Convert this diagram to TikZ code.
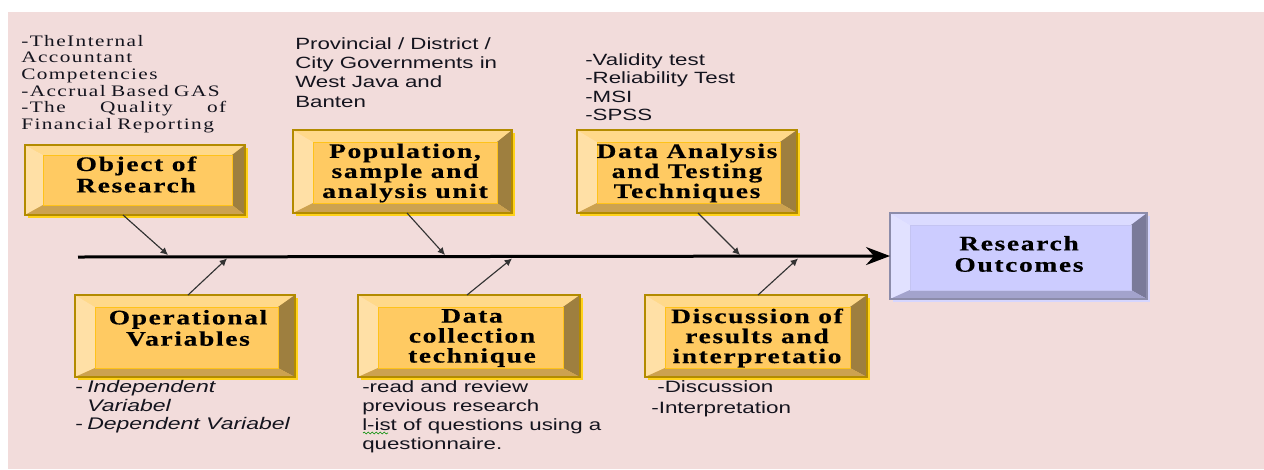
\documentclass[tikz,border=0pt]{standalone}
\usepackage{fontspec}
\setmainfont{Liberation Serif}[FakeStretch=1.33]
\setsansfont{Liberation Sans}[FakeStretch=1.37]
\newfontfamily\tlfont{Liberation Serif}[FakeStretch=1.33,LetterSpace=9]
\newfontfamily\lblfont{Liberation Serif}[FakeStretch=1.33,LetterSpace=8,FakeBold=0.4]
\usetikzlibrary{arrows.meta,calc,shadows,decorations.pathmorphing}
\definecolor{bgpink}{HTML}{F2DCDB}
\definecolor{gface}{HTML}{FFCA62}
\definecolor{gtop}{HTML}{FFD98A}
\definecolor{gleft}{HTML}{FFE0A6}
\definecolor{gright}{HTML}{9E7F3F}
\definecolor{gbottom}{HTML}{CCA250}
\definecolor{gline}{HTML}{B38B00}
\definecolor{gglow}{HTML}{FFD21A}
\definecolor{ginner}{HTML}{FFC21A}
\definecolor{bface}{HTML}{CCCCFF}
\definecolor{btop}{HTML}{DBDBFF}
\definecolor{bleft}{HTML}{E1E1FF}
\definecolor{bright}{HTML}{7A7A99}
\definecolor{bbottom}{HTML}{A3A3CC}
\definecolor{bline}{HTML}{8C8CAA}
\definecolor{bglow}{HTML}{D6D6FF}
\definecolor{binner}{HTML}{C4C4F2}
\definecolor{txt}{HTML}{14141E}
\newcommand\bevelbox[6]{%
  \coordinate (#1-ia) at ($(#1.north west)+(#2,#3)$);
  \coordinate (#1-ib) at ($(#1.north east)+(-#4,#3)$);
  \coordinate (#1-ic) at ($(#1.south east)+(-#4,-#5)$);
  \coordinate (#1-id) at ($(#1.south west)+(#2,-#5)$);
  \fill[#6top] (#1.north west) -- (#1.north east) -- (#1-ib) -- (#1-ia) -- cycle;
  \fill[#6left] (#1.north west) -- (#1-ia) -- (#1-id) -- (#1.south west) -- cycle;
  \fill[#6right] (#1.north east) -- (#1.south east) -- (#1-ic) -- (#1-ib) -- cycle;
  \fill[#6bottom] (#1.south west) -- (#1-id) -- (#1-ic) -- (#1.south east) -- cycle;
  \draw[#6inner, line width=0.6pt] (#1-ia) rectangle (#1-ic);
  \draw[#6line, line width=1pt] (#1.north west) rectangle (#1.south east);
}
\begin{document}
\begin{tikzpicture}[x=0.75pt,y=-0.75pt,
  gbox/.style={draw=gline, line width=1pt, fill=gface, inner sep=0pt, outer sep=0pt,
    drop shadow={shadow xshift=1.9pt, shadow yshift=-1.9pt, fill=gglow, opacity=1}},
  bbox/.style={draw=bline, line width=1pt, fill=bface, inner sep=0pt, outer sep=0pt,
    drop shadow={shadow xshift=1.9pt, shadow yshift=-1.9pt, fill=bglow, opacity=1}},
  lbl/.style={font=\lblfont\bfseries\fontsize{15.5}{15}\selectfont, align=center, inner sep=0pt, text=black},
  lbltwo/.style={font=\lblfont\bfseries\fontsize{15.5}{16}\selectfont, align=center, inner sep=0pt, text=black},
  note/.style={font=\sffamily\fontsize{12.2}{14}\selectfont, align=left, inner sep=0pt, anchor=north west, text=txt},
  conn/.style={draw=black!80, line width=0.85pt, -{Latex[length=5.5pt,width=5.5pt]}},
  spine/.style={draw=black, line width=2.25pt, -{Stealth[length=18pt,width=13.5pt,inset=6pt]}}
]
\useasboundingbox (0,0) rectangle (1264,469);
\fill[white] (0,0) rectangle (1264,469);
\fill[bgpink] (8,12) rectangle (1264,469);

% boxes
\node[gbox, minimum width=165pt, minimum height=52.5pt] (obj) at (135,180) {};
\bevelbox{obj}{18}{10}{13}{10}{g}
\node[gbox, minimum width=164.25pt, minimum height=62.25pt] (pop) at (402.5,171.5) {};
\bevelbox{pop}{20}{12}{15}{10}{g}
\node[gbox, minimum width=165pt, minimum height=62.25pt] (dat) at (687,171.5) {};
\bevelbox{dat}{20}{12}{17}{10}{g}
\node[bbox, minimum width=192.75pt, minimum height=64.5pt] (out) at (1018.5,256) {};
\bevelbox{out}{20}{12}{16}{9}{b}
\node[gbox, minimum width=165pt, minimum height=61.5pt] (ope) at (185,336) {};
\bevelbox{ope}{20}{12}{17}{9}{g}
\node[gbox, minimum width=166.5pt, minimum height=61.5pt] (col) at (469,336) {};
\bevelbox{col}{20}{12}{17}{9}{g}
\node[gbox, minimum width=166.5pt, minimum height=61.5pt] (dis) at (756,336) {};
\bevelbox{dis}{20}{12}{17}{9}{g}

% labels
\node[lbltwo] (objt) at (136,174.5) {Object of\\Research};
\node[lbl] (popt) at (405,173) {Population,\\sample and\\analysis unit};
\node[lbl] (datt) at (687,173) {Data Analysis\\and Testing\\Techniques};
\node[lbltwo] (outt) at (1019,254) {Research\\Outcomes};
\node[lbltwo] (opet) at (188,328) {Operational\\Variables};
\node[lbl] (colt) at (472,338) {Data\\collection\\technique};
\node[lbl] (dist) at (757,338) {Discussion of\\results and\\interpretatio};

% spine
\coordinate (sp0) at (78,257);
\draw[spine] (sp0) -- (out.west);
\coordinate (j1) at (168,255);
\coordinate (j2) at (227,258.5);
\coordinate (j3) at (445,255);
\coordinate (j4) at (512,258.5);
\coordinate (j5) at (740,255);
\coordinate (j6) at (798,258.5);
\draw[conn] ([xshift=-9pt]obj.south) -- (j1);
\draw[conn] ([xshift=3.4pt]pop.south) -- (j3);
\draw[conn] ([xshift=8.25pt]dat.south) -- (j5);
\draw[conn] ([xshift=2.25pt]ope.north) -- (j2);
\draw[conn] ([xshift=-1.5pt]col.north) -- (j4);
\draw[conn] ([xshift=1.5pt]dis.north) -- (j6);

% notes
\node[anchor=north west, inner sep=0pt, text=txt, align=left, text width=153.75pt,
  font=\tlfont\fontsize{12}{12.45}\selectfont] (n1) at (21,35)
  {-TheInternal\\Accountant\\Competencies\\-Accrual Based GAS\\\makebox[153.75pt][l]{-The\hfill Quality\hfill of}\\Financial Reporting};
\node[note, font=\sffamily\fontsize{12.2}{14.4}\selectfont] (n2) at (295,37.5)
  {Provincial / District /\\City Governments in\\West Java and\\Banten};
\node[note, font=\sffamily\fontsize{12.2}{13.9}\selectfont] (n3) at (585,53)
  {-Validity test\\-Reliability Test\\-MSI\\-SPSS};
\node[note, font=\sffamily\fontsize{12.6}{14}\selectfont] (n4) at (75,380)
  {\makebox[9pt][l]{-}\textit{Independent}\\\hspace*{9pt}\textit{Variabel}\\\makebox[9pt][l]{-}\textit{Dependent Variabel}};
\node[note, font=\sffamily\fontsize{12.2}{14.3}\selectfont] (n5) at (362,380)
  {-read and review\\previous research\\l-ist of questions using a\\questionnaire.};
\draw[green!55!black, line width=0.45pt, decorate,
  decoration={snake, amplitude=0.7pt, segment length=3pt}] (363,433) -- (388,433);
\node[note, font=\sffamily\fontsize{12.3}{15.75}\selectfont] (n6) at (651,380)
  {\hspace*{4.5pt}-Discussion\\-Interpretation};
\end{tikzpicture}
\end{document}
